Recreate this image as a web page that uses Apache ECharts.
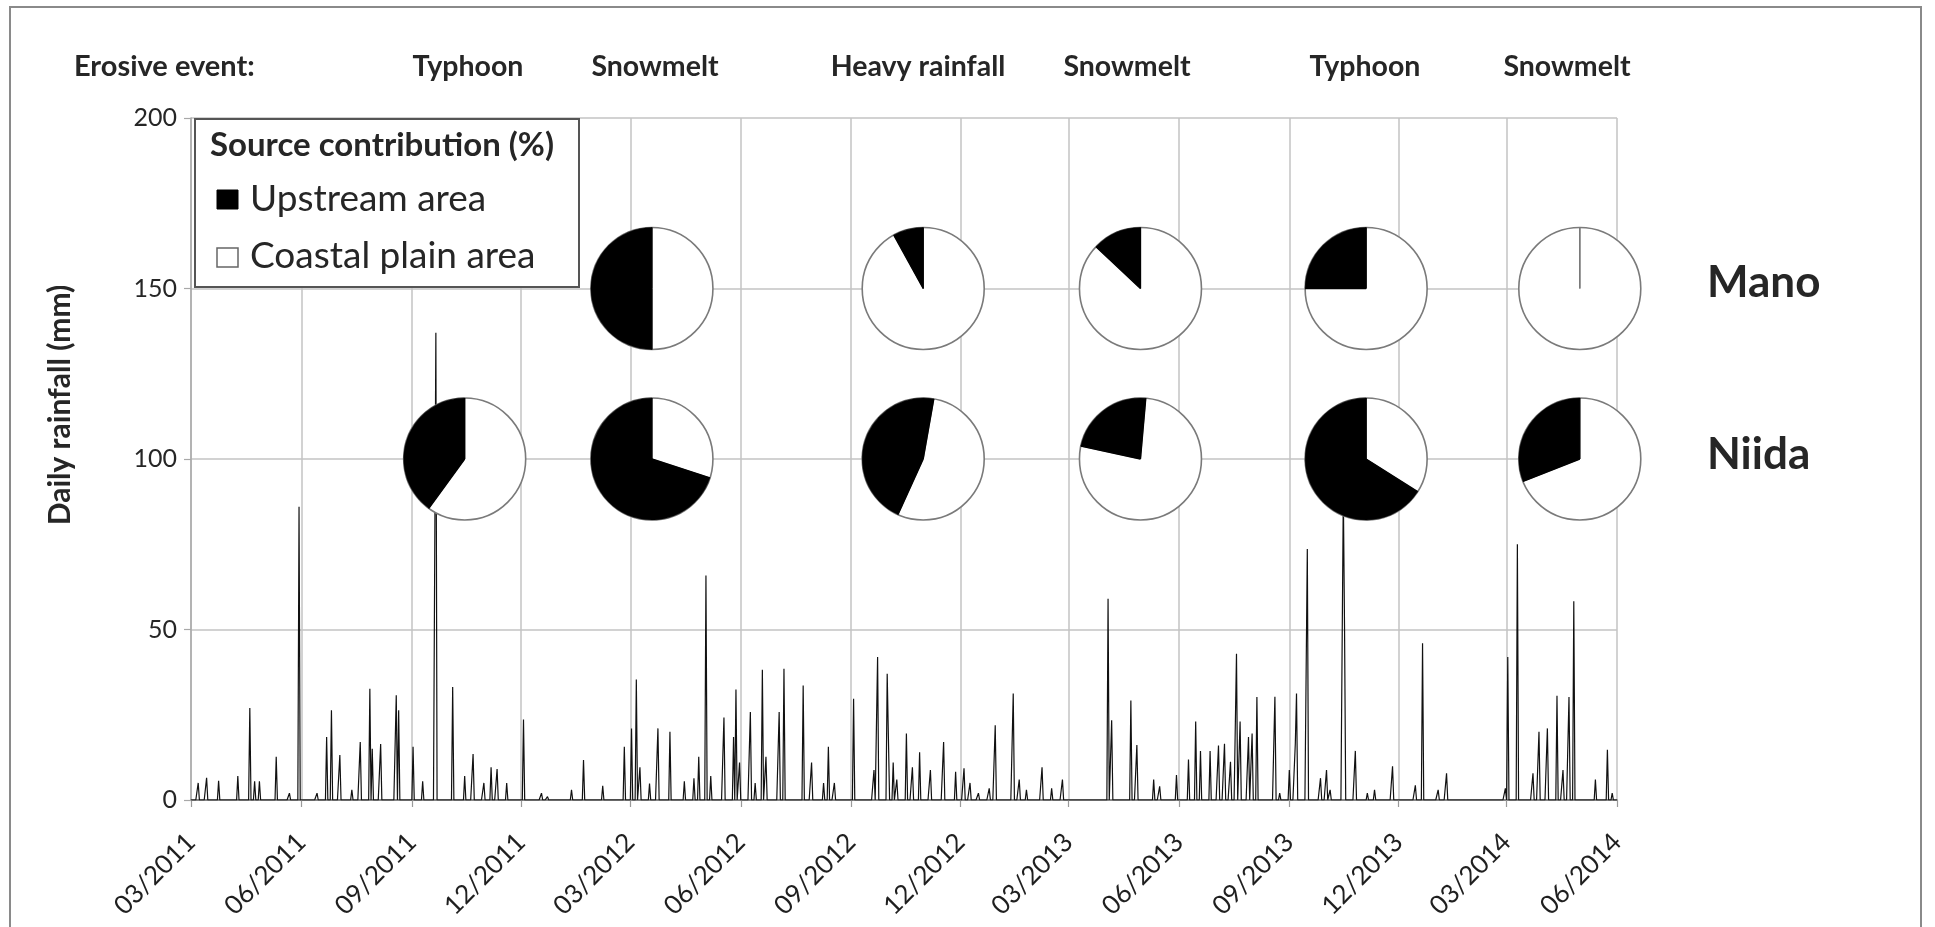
<!DOCTYPE html>
<html><head><meta charset="utf-8">
<script src="https://cdn.jsdelivr.net/npm/echarts@6/dist/echarts.min.js"></script>
<style>html,body{margin:0;padding:0;background:#fff}#c{width:1935px;height:927px}</style>
</head><body><div id="c"></div>
<script>
// ---- data ----
const rainDates = ['2011-03-07','2011-03-14','2011-03-24','2011-04-09','2011-04-19','2011-04-23','2011-04-27','2011-05-11','2011-05-22','2011-05-30',
'2011-06-14','2011-06-22','2011-06-26','2011-07-03','2011-07-13','2011-07-20','2011-07-28','2011-07-30','2011-08-06','2011-08-19',
'2011-08-21','2011-09-02','2011-09-10','2011-09-21','2011-10-05','2011-10-15','2011-10-22','2011-10-31','2011-11-06','2011-11-11',
'2011-11-19','2011-12-03','2011-12-18','2011-12-23','2012-01-12','2012-01-22','2012-02-07','2012-02-25','2012-03-02','2012-03-06',
'2012-03-09','2012-03-17','2012-03-24','2012-04-03','2012-04-15','2012-04-23','2012-04-27','2012-05-03','2012-05-07','2012-05-18',
'2012-05-26','2012-05-28','2012-05-31','2012-06-09','2012-06-13','2012-06-19','2012-06-22','2012-07-03','2012-07-07','2012-07-23',
'2012-07-30','2012-08-09','2012-08-13','2012-08-18','2012-09-03','2012-09-20','2012-09-23','2012-10-01','2012-10-02','2012-10-06',
'2012-10-09','2012-10-17','2012-10-22','2012-10-28','2012-11-06','2012-11-17','2012-11-27','2012-12-04','2012-12-09','2012-12-16',
'2012-12-25','2012-12-30','2013-01-14','2013-01-19','2013-01-25','2013-02-07','2013-02-15','2013-02-24','2013-04-03','2013-04-06',
'2013-04-22','2013-04-27','2013-05-11','2013-05-16','2013-05-30','2013-06-09','2013-06-15','2013-06-19','2013-06-27','2013-07-04',
'2013-07-09','2013-07-14','2013-07-19','2013-07-22','2013-07-29','2013-08-01','2013-08-05','2013-08-20','2013-08-24','2013-09-01',
'2013-09-06','2013-09-07','2013-09-16','2013-09-27','2013-10-02','2013-10-05','2013-10-16','2013-10-17','2013-10-26','2013-11-05',
'2013-11-11','2013-11-26','2013-12-15','2013-12-21','2014-01-03','2014-01-10','2014-02-28','2014-03-02','2014-03-10','2014-03-23',
'2014-03-28','2014-04-04','2014-04-12','2014-04-17','2014-04-22','2014-04-26','2014-05-14','2014-05-24','2014-05-28'];
const rainMm = [5,6.5,5.6,7,27,5.5,5.5,12.7,2,86,
2,18.5,26.3,13.2,3,17,32.6,15,16.4,30.7,
26.3,15.6,5.5,137,33.1,7,13.5,5,9.6,9.1,
5,23.6,2,1,3,11.7,4.2,15.6,21,35.3,
9.6,4.8,21,20,5.5,6.4,12.7,65.8,7,24.2,
18.5,32.4,11,25.8,5,38.2,12.7,25.8,38.5,33.6,
11,5,15.6,5,29.7,8.8,41.9,37,18.5,11,
6,19.5,9.6,14,8.8,17,8.3,9.3,5,2,
3.4,21.9,31.2,6,3,9.6,3.4,6,59,23.4,
29.2,16.1,6,4,7.3,11.9,23,14.4,14.4,16,
16.5,11.2,42.9,23,18.5,19.5,30.2,30.3,2,8.8,
16.5,31.2,73.6,6.4,8.8,3,90,51.2,14.4,2,
3,9.9,4.3,46,3,7.8,3.4,41.9,75,7.8,
20,21,30.6,8.8,30.2,58.3,6,14.7,2];

const firstDay = '2011-03-01';
const lastDay = '2014-06-01';
const quarterMonths = ['03','06','09','12'];
const yMin = 0, yMax = 200, yStep = 50;

const eventLabels = ['Typhoon','Snowmelt','Heavy rainfall','Snowmelt','Typhoon','Snowmelt'];

const sites = ['Mano','Niida'];
const siteRowValue = [150, 100];
const manoDates = ['2012-03-19','2012-10-31','2013-04-30','2013-11-04','2014-05-01'];
const manoUpstream = [50, 8, 13, 25, 0];
const manoRotation = [0, 0, 0, 0, 0];
const niidaDates = ['2011-10-15','2012-03-19','2012-10-31','2013-04-30','2013-11-04','2014-05-01'];
const niidaUpstream = [40, 70, 46, 23, 66, 31];
const niidaRotation = [0, 0, 10, 5, 0, 0];

// ---- build ----
const days = [];
for (let t = Date.parse(firstDay + 'T00:00:00Z'); t <= Date.parse(lastDay + 'T00:00:00Z'); t += 86400000) {
  days.push(new Date(t).toISOString().slice(0, 10));
}
const rainMap = {};
rainDates.forEach((d, i) => { rainMap[d] = rainMm[i]; });
const rainSeries = days.map(d => (d in rainMap ? rainMap[d] : 0));
const isQuarter = (i, v) => v.slice(8) === '01' && quarterMonths.indexOf(v.slice(5, 7)) >= 0;

const pieData = [];
manoDates.forEach((d, i) => pieData.push([days.indexOf(d), siteRowValue[0], manoUpstream[i], manoRotation[i]]));
niidaDates.forEach((d, i) => pieData.push([days.indexOf(d), siteRowValue[1], niidaUpstream[i], niidaRotation[i]]));

const FONT = 'Lato, "Open Sans", sans-serif';
const TXT = '#262626';
const GRID = '#c3c3c3';
const R = 61;

function renderPie(params, api) {
  const c = api.coord([api.value(0), api.value(1)]);
  const pct = api.value(2);
  const rot = api.value(3) * Math.PI / 180;
  const top = -Math.PI / 2 + rot;
  const theta = pct / 100 * Math.PI * 2;
  const children = [{
    type: 'circle', shape: { cx: c[0], cy: c[1], r: R },
    style: { fill: '#fff', stroke: '#7a7a7a', lineWidth: 1.6 }
  }];
  if (theta > 0) {
    children.push({
      type: 'sector',
      shape: { cx: c[0], cy: c[1], r0: 0, r: R, startAngle: top - theta, endAngle: top, clockwise: true },
      style: { fill: '#000', stroke: '#000', lineWidth: 0.5 }
    });
  }
  const a2 = top - theta;
  children.push({
    type: 'line', shape: { x1: c[0], y1: c[1], x2: c[0] + R * Math.cos(top), y2: c[1] + R * Math.sin(top) },
    style: { stroke: theta > 0 ? '#000' : '#7a7a7a', lineWidth: 1.4 }
  });
  children.push({
    type: 'line', shape: { x1: c[0], y1: c[1], x2: c[0] + R * Math.cos(a2), y2: c[1] + R * Math.sin(a2) },
    style: { stroke: theta > 0 ? '#000' : '#7a7a7a', lineWidth: 1.4 }
  });
  return { type: 'group', children: children };
}

function txt(x, y, text, font, align, extra) {
  const el = { type: 'text', z: 101, x: x, y: y,
    style: { text: text, font: font, fill: TXT, align: align, verticalAlign: 'middle', textAlign: align, textVerticalAlign: 'middle' } };
  return Object.assign(el, extra || {});
}

const eventX = [468, 655, 918, 1127, 1365, 1567];
const graphics = [
  { type: 'rect', z: 100, shape: { x: 10, y: 7, width: 1911, height: 960 }, style: { fill: 'none', stroke: '#8a8a8a', lineWidth: 2 } },
  txt(74, 67, 'Erosive event:', 'bold 29px ' + FONT, 'left'),
  // legend box
  { type: 'rect', z: 100, shape: { x: 195, y: 119, width: 384, height: 168 }, style: { fill: '#fff', stroke: '#555', lineWidth: 2 } },
  txt(210, 145, 'Source contribution (%)', 'bold 33px ' + FONT, 'left'),
  { type: 'rect', z: 101, shape: { x: 217, y: 190, width: 21, height: 19 }, style: { fill: '#000', stroke: '#000', lineWidth: 1 } },
  txt(250, 199, 'Upstream area', '37px ' + FONT, 'left'),
  { type: 'rect', z: 101, shape: { x: 217, y: 248, width: 21, height: 19 }, style: { fill: '#fff', stroke: '#666', lineWidth: 1.5 } },
  txt(250, 256, 'Coastal plain area', '37px ' + FONT, 'left'),
  // y axis title
  txt(60, 405, 'Daily rainfall (mm)', 'bold 30px ' + FONT, 'center', { rotation: Math.PI / 2 }),
  // site labels
  txt(1707, 283, sites[0], 'bold 44px ' + FONT, 'left'),
  txt(1707, 455, sites[1], 'bold 44px ' + FONT, 'left')
];
eventLabels.forEach((t, i) => graphics.push(txt(eventX[i], 67, t, 'bold 28.5px ' + FONT, 'center')));

const chart = echarts.init(document.getElementById('c'), null, { renderer: 'canvas' });
chart.setOption({
  animation: false,
  backgroundColor: '#fff',
  grid: { left: 191, right: 318, top: 118, bottom: 127, containLabel: false },
  xAxis: {
    type: 'category', data: days, boundaryGap: false,
    axisLine: { show: true, lineStyle: { color: '#6e6e6e', width: 1.5 } },
    axisTick: { show: true, interval: isQuarter, length: 7, lineStyle: { color: '#9a9a9a', width: 1.2 } },
    axisLabel: {
      interval: isQuarter, rotate: 45, margin: 38,
      formatter: v => v.slice(5, 7) + '/' + v.slice(0, 4),
      fontFamily: FONT, fontSize: 26, color: '#1f1f1f'
    },
    splitLine: { show: true, interval: isQuarter, lineStyle: { color: GRID, width: 1.5 } }
  },
  yAxis: {
    type: 'value', min: yMin, max: yMax, interval: yStep,
    axisLine: { show: true, lineStyle: { color: '#a8a8a8', width: 1.5 } },
    axisTick: { show: true, inside: false, length: 7, lineStyle: { color: '#a8a8a8', width: 1.2 } },
    axisLabel: { fontFamily: FONT, fontSize: 25, color: TXT, margin: 14 },
    splitLine: { show: true, lineStyle: { color: GRID, width: 1.5 } }
  },
  series: [
    {
      type: 'line', data: rainSeries, showSymbol: false, symbol: 'none', z: 3,
      lineStyle: { color: '#111', width: 1.2 }, sampling: null
    },
    {
      type: 'custom', data: pieData, renderItem: renderPie, z: 5, clip: false,
      encode: { x: 0, y: 1 }
    }
  ],
  graphic: { elements: graphics }
});
</script>
</body></html>
